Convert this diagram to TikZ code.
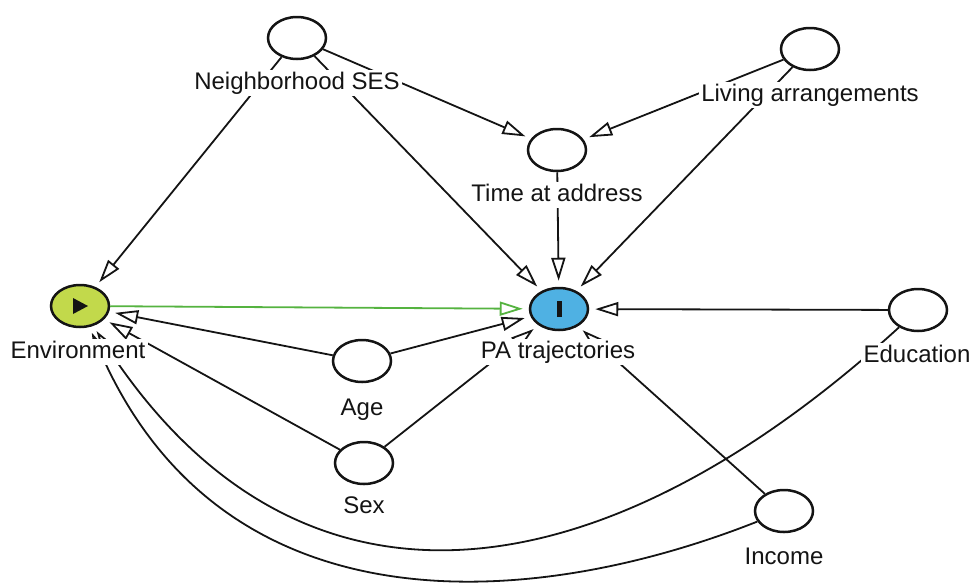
\documentclass[tikz,border=0pt]{standalone}
\usepackage{fontspec}
\setmainfont{Liberation Sans}
\usetikzlibrary{arrows.meta,shapes.geometric}
\definecolor{expo}{HTML}{C2D94B}
\definecolor{outc}{HTML}{4FB1E3}
\definecolor{pathg}{HTML}{55B340}
\definecolor{ink}{HTML}{141414}
\begin{document}
\begin{tikzpicture}[x=1pt,y=-1pt,
  var/.style={draw=ink, ellipse, line width=2.5pt, minimum width=58pt, minimum height=42pt, inner sep=0pt},
  lab/.style={fill=white, anchor=base, inner xsep=2.5pt, inner ysep=2pt, text height=17.5pt, text depth=4.5pt,
              font=\fontsize{24}{28}\selectfont, text=ink},
  arr/.style={draw=ink, line width=1.8pt, shorten >=6pt, -{Triangle[length=23pt,width=14pt,fill=white]}},
]
\useasboundingbox (0,0) rectangle (972,582);

% variables
\node[var] (nses) at (297,38) {};
\node[var] (liv) at (810,49) {};
\node[var] (tim) at (557,150) {};
\node[var, fill=expo] (env) at (80,306) {};
\node[var, fill=outc] (pa) at (559,309) {};
\node[var] (edu) at (918,310) {};
\node[var] (age) at (362,361) {};
\node[var] (sex) at (364,463) {};
\node[var] (inc) at (784,511) {};

% edges
\draw[arr] (nses) -- (env);
\draw[arr] (nses) -- (pa);
\draw[arr] (nses) -- (tim);
\draw[arr] (liv) -- (tim);
\draw[arr] (liv) -- (pa);
\draw[arr] (tim) -- (pa);
\draw[arr] (age) -- (env);
\draw[arr] (sex) -- (env);
\draw[arr] (age) -- (pa);
\draw[arr] (sex) -- (pa);
\draw[arr] (edu) -- (pa);
\draw[arr] (inc) -- (pa);
\draw[arr] (edu) .. controls (600,600) and (300,640) .. (env);
\draw[arr] (inc) .. controls (534,610) and (225,635) .. (env);
\draw[arr, draw=pathg] (env) -- (pa);

% labels
\node[lab] (nsesL) at (297,89) {Neighborhood SES};
\node[lab] (livL) at (810,101) {Living arrangements};
\node[lab] (timL) at (557,201) {Time at address};
\node[lab] (envL) at (78,358) {Environment};
\node[lab] (paL) at (558,358) {PA trajectories};
\node[lab] (eduL) at (917,362) {Education};
\node[lab] (ageL) at (362,415) {Age};
\node[lab] (sexL) at (364,513) {Sex};
\node[lab] (incL) at (784,564) {Income};

% markers inside exposure and outcome
\fill[ink] (env) ++(-7,-8) -- ++(0,16) -- ++(15,-8) -- cycle;
\fill[ink] (pa) ++(-2.5,-8) rectangle ++(5,16);
\end{tikzpicture}
\end{document}
